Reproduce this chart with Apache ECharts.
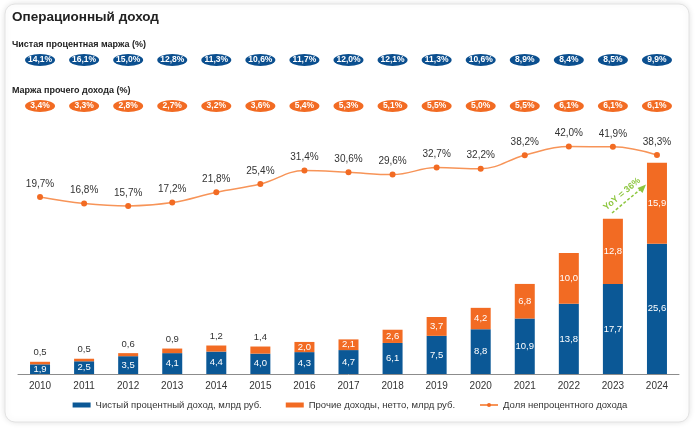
<!DOCTYPE html>
<html><head><meta charset="utf-8">
<script src="https://cdn.jsdelivr.net/npm/echarts@6/dist/echarts.min.js"></script>
<style>html,body{margin:0;padding:0;background:#fff}#c{width:700px;height:429px}</style>
</head><body><div id="c"></div>
<script>
const years = ['2010','2011','2012','2013','2014','2015','2016','2017','2018','2019','2020','2021','2022','2023','2024'];
const netInterest = [1.9,2.5,3.5,4.1,4.4,4.0,4.3,4.7,6.1,7.5,8.8,10.9,13.8,17.7,25.6];
const otherIncome = [0.5,0.5,0.6,0.9,1.2,1.4,2.0,2.1,2.6,3.7,4.2,6.8,10.0,12.8,15.9];
const nonInterestShare = [19.7,16.8,15.7,17.2,21.8,25.4,31.4,30.6,29.6,32.7,32.2,38.2,42.0,41.9,38.3];
const nimMargin = [14.1,16.1,15.0,12.8,11.3,10.6,11.7,12.0,12.1,11.3,10.6,8.9,8.4,8.5,9.9];
const otherMargin = [3.4,3.3,2.8,2.7,3.2,3.6,5.4,5.3,5.1,5.5,5.0,5.5,6.1,6.1,6.1];

const BLUE = '#0B5896', ORANGE = '#F26B23', LINE = '#F79458', TXT = '#333';
const FONT = 'Arial, "Liberation Sans", sans-serif';
const fmt = v => v.toFixed(1).replace('.', ',');

const chart = echarts.init(document.getElementById('c'));
const gridL = 18, gridR = 21;

chart.setOption({
  animation: false,
  textStyle: {fontFamily: FONT},
  graphic: [
    {type:'rect', z:-10, shape:{x:5,y:4,width:684,height:418,r:10},
     style:{fill:'#fff', stroke:'#e2e2e2', lineWidth:1, shadowBlur:6, shadowColor:'rgba(0,0,0,0.12)'}},
    {type:'text', left:12, top:10, style:{text:'Операционный доход', font:'bold 13.5px '+FONT, fill:'#222'}},
    {type:'text', left:12, top:40, style:{text:'Чистая процентная маржа (%)', font:'bold 9px '+FONT, fill:'#222'}},
    {type:'text', left:12, top:86, style:{text:'Маржа прочего дохода (%)', font:'bold 9px '+FONT, fill:'#222'}},
    {type:'line', shape:{x1:612,y1:213,x2:642,y2:188}, style:{stroke:'#8DC63F', lineWidth:1.5, lineDash:[3,2]}},
    {type:'polygon', shape:{points:[[646,184.5],[637.5,188],[642.5,193]]}, style:{fill:'#8DC63F'}},
    {type:'text', x:622, y:194, rotation:40*Math.PI/180,
     style:{text:'YoY = 36%', font:'bold 9px '+FONT, fill:'#8DC63F', align:'center', verticalAlign:'middle'}}
  ],
  legend: {
    bottom: 14, left: 'center', itemGap: 24, itemWidth: 18, itemHeight: 5,
    textStyle: {fontSize: 9.5, color: TXT, fontFamily: FONT},
    data: [
      {name:'Чистый процентный доход, млрд руб.', icon:'rect'},
      {name:'Прочие доходы, нетто, млрд руб.', icon:'rect'},
      {name:'Доля непроцентного дохода'}
    ]
  },
  grid: [
    {left:gridL, right:gridR, top:145, bottom:55},
    {left:gridL, right:gridR, top:106, bottom:187.6},
    {left:gridL, right:gridR, top:60, height:46}
  ],
  xAxis: [
    {type:'category', data:years, gridIndex:0,
     axisLine:{lineStyle:{color:'#8c8c8c'}}, axisTick:{show:false},
     axisLabel:{color:TXT, fontSize:10, margin:7, fontFamily:FONT}},
    {type:'category', data:years, gridIndex:1, show:false},
    {type:'category', data:years, gridIndex:2, show:false}
  ],
  yAxis: [
    {type:'value', gridIndex:0, min:0, max:45, show:false, splitLine:{show:false}},
    {type:'value', gridIndex:1, min:0, max:60, show:false, splitLine:{show:false}},
    {type:'value', gridIndex:2, min:0, max:1, show:false, splitLine:{show:false}}
  ],
  series: [
    {name:'Чистый процентный доход, млрд руб.', type:'bar', stack:'a', barWidth:20,
     xAxisIndex:0, yAxisIndex:0, itemStyle:{color:BLUE},
     label:{show:true, position:'inside', color:'#fff', fontSize:9.5, formatter:p=>fmt(p.value)},
     data: netInterest},
    {name:'Прочие доходы, нетто, млрд руб.', type:'bar', stack:'a', barWidth:20,
     xAxisIndex:0, yAxisIndex:0, itemStyle:{color:ORANGE},
     label:{show:true, position:'inside', color:'#fff', fontSize:9.5, formatter:p=>fmt(p.value)},
     data: otherIncome.map((v,i)=> i<6 ? {value:v, label:{position:'top', color:TXT, distance:4}} : v)},
    {name:'Доля непроцентного дохода', type:'line', smooth:0.4, xAxisIndex:1, yAxisIndex:1,
     symbol:'circle', symbolSize:6, lineStyle:{color:LINE, width:1.5}, itemStyle:{color:ORANGE},
     label:{show:true, position:'top', distance:5, color:TXT, fontSize:10, formatter:p=>fmt(p.value)+'%'},
     data: nonInterestShare},
    {type:'scatter', xAxisIndex:2, yAxisIndex:2, clip:false, symbol:'circle', symbolSize:[30,12],
     itemStyle:{color:'#0B4F8F', opacity:1}, silent:true,
     label:{show:true, position:'inside', color:'#fff', fontSize:8.5, fontWeight:'bold', formatter:p=>fmt(p.value[2])+'%'},
     data: nimMargin.map((v,i)=>[i,1,v])},
    {type:'scatter', xAxisIndex:2, yAxisIndex:2, clip:false, symbol:'circle', symbolSize:[30,12],
     itemStyle:{color:ORANGE, opacity:1}, silent:true,
     label:{show:true, position:'inside', color:'#fff', fontSize:8.5, fontWeight:'bold', formatter:p=>fmt(p.value[2])+'%'},
     data: otherMargin.map((v,i)=>[i,0,v])}
  ]
});
</script></body></html>
